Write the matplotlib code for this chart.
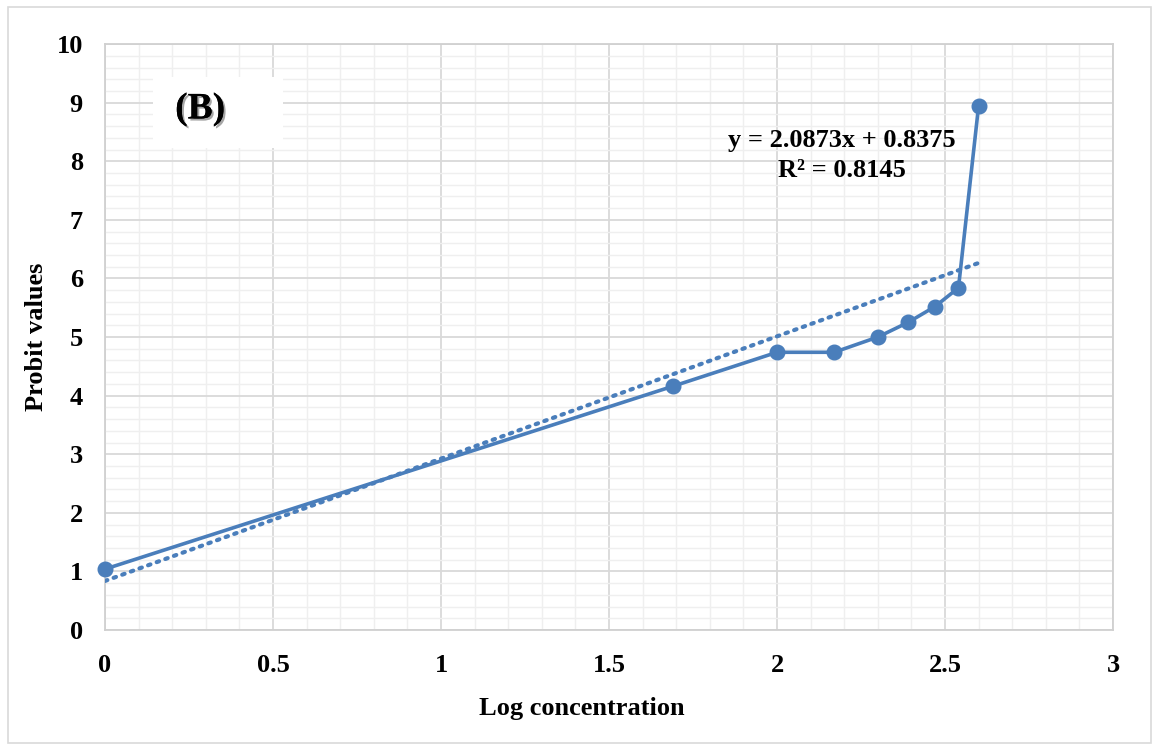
import numpy as np
import matplotlib.pyplot as plt
from matplotlib.patches import Rectangle
import matplotlib.patheffects as pe

plt.rcParams['font.family'] = ['Liberation Serif', 'DejaVu Serif']
plt.rcParams['font.weight'] = 'bold'

log_conc = [0, 1.69, 2.0, 2.17, 2.30, 2.39, 2.47, 2.54, 2.60]
probit = [1.04, 4.16, 4.74, 4.74, 5.0, 5.25, 5.52, 5.84, 8.95]

slope = 2.0873
intercept = 0.8375
r2 = 0.8145

blue = '#4A7EBB'

fig = plt.figure(figsize=(11.54, 7.47), dpi=100)
ax = fig.add_axes([0.091, 0.1566, 0.8735, 0.7844])

# figure frame
fig.patches.append(Rectangle((0.007, 0.005), 0.99, 0.985, transform=fig.transFigure,
                             fill=False, edgecolor='#d9d9d9', linewidth=1.2))

ax.set_xlim(0, 3)
ax.set_ylim(0, 10)
ax.set_xticks(np.arange(0, 3.01, 0.5))
ax.set_xticklabels(['0', '0.5', '1', '1.5', '2', '2.5', '3'])
ax.set_yticks(np.arange(0, 11, 1))
ax.set_xticks(np.arange(0, 3.01, 0.1), minor=True)
ax.set_yticks(np.arange(0, 10.01, 0.2), minor=True)
ax.grid(which='major', color='#d9d9d9', linewidth=1.3, zorder=0)
ax.grid(which='minor', color='#efefef', linewidth=1.0, zorder=0)
ax.set_axisbelow(True)
ax.tick_params(which='both', length=0, labelsize=19)
ax.tick_params(axis='x', pad=17)
ax.tick_params(axis='y', pad=16)
for s in ax.spines.values():
    s.set_color('#d0d0d0')
    s.set_linewidth(1.3)

# trendline
xt = np.array([0, 2.6])
ax.plot(xt, slope * xt + intercept, linestyle=(0, (0.6, 1.6)), color=blue,
        linewidth=3, dash_capstyle='round', zorder=3)

ax.plot(log_conc, probit, '-o', color=blue, linewidth=2.6, markersize=10.5, zorder=4,
        clip_on=False)

ax.text(2.193, 8.36, 'y = 2.0873x + 0.8375', ha='center', va='center', fontsize=19,
        fontweight='bold')
ax.text(2.193, 7.85, 'R² = %.4f' % r2, ha='center', va='center', fontsize=19,
        fontweight='bold')

ax.add_patch(Rectangle((0.143, 8.22), 0.387, 1.22, facecolor='white', edgecolor='none',
                       zorder=2))
ax.text(0.283, 8.89, '(B)', ha='center', va='center', fontsize=27, fontweight='bold',
        zorder=5, path_effects=[pe.withSimplePatchShadow(offset=(1.5, -1.5), alpha=0.35),
                                pe.Normal()])

ax.set_xlabel('Log concentration', fontsize=19, fontweight='bold', labelpad=15, x=0.473)
ax.set_ylabel('Probit values', fontsize=19, fontweight='bold', labelpad=6)

fig.savefig('out.png', dpi=100)
